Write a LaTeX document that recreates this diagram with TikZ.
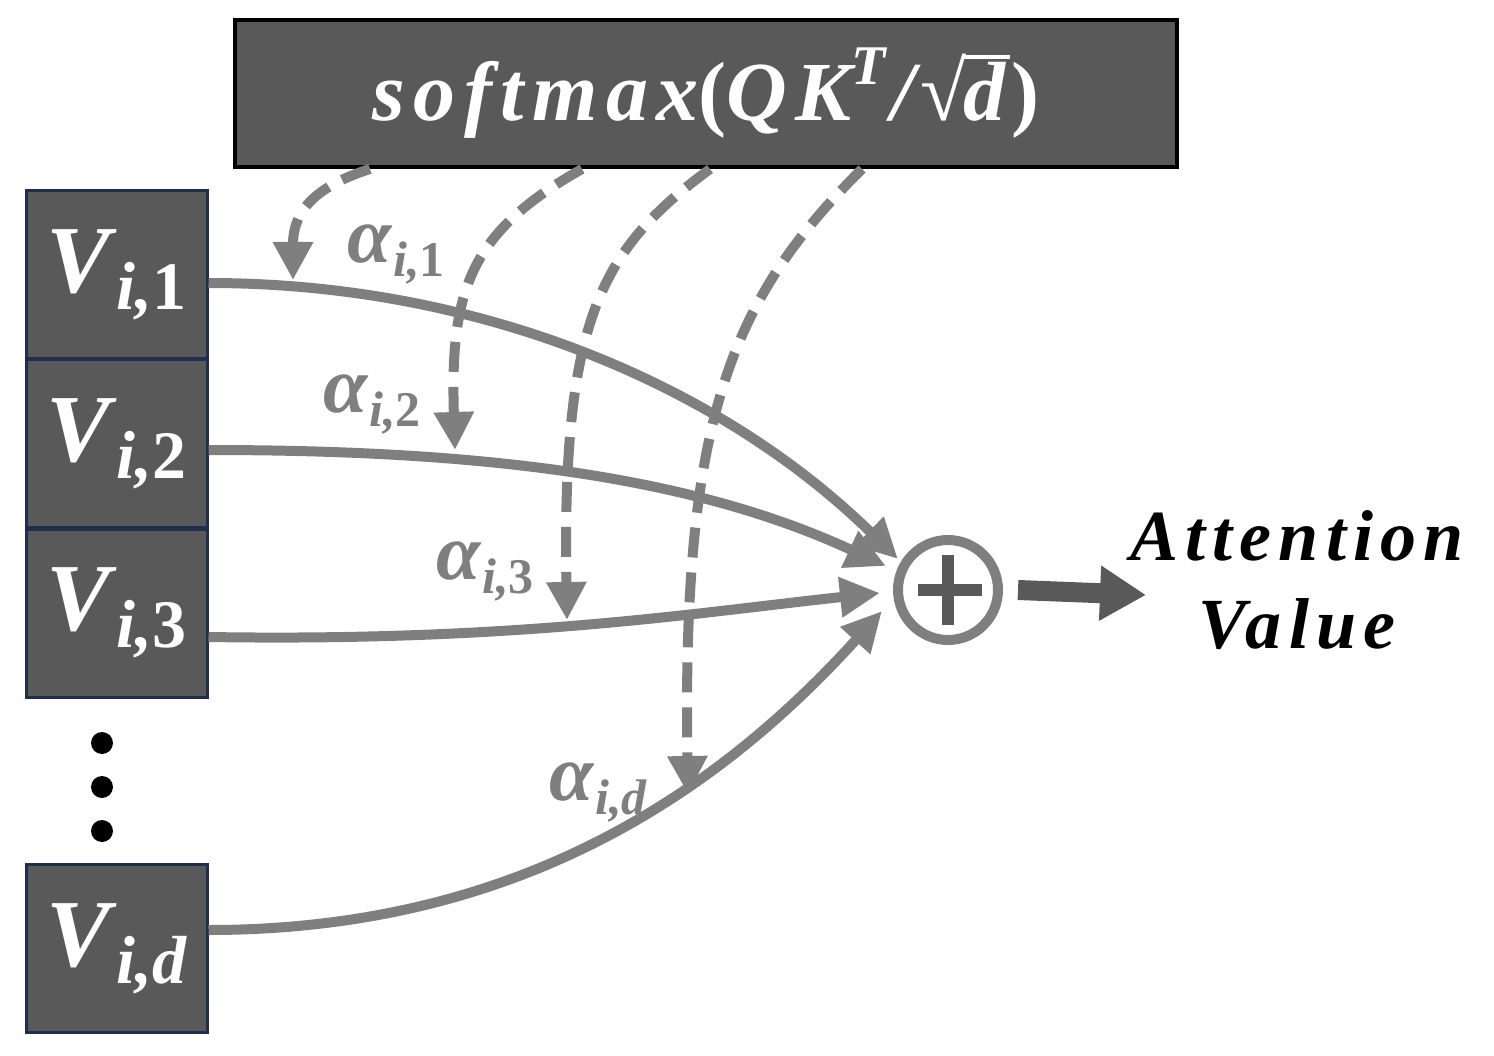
\documentclass[tikz,border=0pt]{standalone}
\usepackage{fontspec}
\setmainfont{Liberation Serif}
\usetikzlibrary{arrows.meta}
\definecolor{boxg}{HTML}{595959}
\definecolor{lineg}{HTML}{7F7F7F}
\definecolor{navyb}{HTML}{1F2D4E}
\newcommand\bix{\bfseries\itshape}
\newcommand\vlab[1]{{\fontsize{96}{96}\selectfont\bix V}\kern6pt\raisebox{-17pt}{\fontsize{68}{68}\selectfont\bix #1}}
\newcommand\alab[1]{{\fontsize{80}{80}\selectfont\bix α}\kern2pt\raisebox{-14pt}{\fontsize{50}{50}\selectfont\bix #1}}
\begin{document}
\begin{tikzpicture}[x=1pt,y=-1pt,
  vbox/.style={draw=navyb,line width=3pt,fill=boxg,text=white,minimum width=181pt,minimum height=168pt,inner sep=0pt},
  flow/.style={draw=lineg,line width=10pt,-{Triangle[length=40pt,width=38pt]}},
  wt/.style={draw=lineg,line width=10pt,dash pattern=on 30pt off 15pt,-{Triangle[length=38pt,width=38pt]}},
  alb/.style={text=lineg,inner sep=0pt},
  dotn/.style={circle,fill=black,minimum size=22pt,inner sep=0pt}]
\useasboundingbox (0,0) rectangle (1494,1056);
% top box
\node[draw=black,line width=4pt,fill=boxg,text=white,minimum width=942pt,minimum height=147pt,inner sep=0pt] (sm) at (706,93.5)
 {\fontsize{84}{84}\selectfont\bix\addfontfeature{LetterSpace=10}softmax\upshape(\itshape QK\raisebox{36pt}{\fontsize{56}{56}\selectfont T}\kern6pt/\kern5pt\upshape√\kern-3pt\rlap{\rule[62pt]{47pt}{4pt}}\itshape d\kern6pt\upshape)};
% V boxes
\node[vbox] (v1) at (116.5,275) {\vlab{i,\upshape 1}};
\node[vbox] (v2) at (116.5,443.5) {\vlab{i,\upshape 2}};
\node[vbox] (v3) at (116.5,613) {\vlab{i,\upshape 3}};
\node[vbox] (vd) at (116.5,948.5) {\vlab{i,d}};
\node[dotn] (d1) at (102,743) {};
\node[dotn] (d2) at (102,787) {};
\node[dotn] (d3) at (102,831) {};
% oplus
\node[circle,draw=lineg,line width=10pt,minimum size=100pt,inner sep=0pt] (op) at (948,590) {};
\draw[boxg,line width=12pt] ([xshift=-30pt]op.center) -- ([xshift=34pt]op.center);
\draw[boxg,line width=12pt] ([yshift=-35pt]op.center) -- ([yshift=35pt]op.center);
% output
\node[inner sep=0pt,align=center,text=black,font=\fontsize{72}{88}\selectfont\bix\addfontfeature{LetterSpace=10}] (out) at (1297,580)
 {Attention\\Value};
\coordinate (outtip) at (1146,595);
\draw[boxg,line width=20pt,-{Triangle[length=46pt,width=52pt]}] ([xshift=15pt]op.east) -- (outtip);
% tips
\coordinate (t1) at (898,559);
\coordinate (t2) at (886,566);
\coordinate (t3) at (880,593);
\coordinate (t4) at (882,611);
% solid flows
\draw[flow] (v1.east |- 0,283) .. controls (480,283) and (720,385) .. (t1);
\draw[flow] (v2.east |- 0,450) .. controls (500,450) and (700,480) .. (t2);
\draw[flow] (v3.east |- 0,637) .. controls (520,642) and (700,612) .. (t3);
\draw[flow] (vd.east |- 0,930) .. controls (520,930) and (720,790) .. (t4);
% dashed weights
\coordinate (w1) at (293,280);
\coordinate (w2) at (455,450);
\coordinate (w3) at (567,620);
\coordinate (w4) at (688,794);
\draw[wt] (sm.south -| 370,0) .. controls (310,188) and (293,215) .. (w1);
\draw[wt] (sm.south -| 582,0) .. controls (470,232) and (450,290) .. (w2);
\draw[wt] (sm.south -| 710,0) .. controls (600,250) and (562,320) .. (w3);
\draw[wt] (sm.south -| 862,0) .. controls (730,300) and (682,420) .. (w4);
% labels
\node[alb] (a1) at (396,255) {\alab{i,\upshape 1}};
\node[alb] (a2) at (372,405) {\alab{i,\upshape 2}};
\node[alb] (a3) at (485,572) {\alab{i,\upshape 3}};
\node[alb] (a4) at (598,792) {\alab{i,d}};
\end{tikzpicture}
\end{document}
